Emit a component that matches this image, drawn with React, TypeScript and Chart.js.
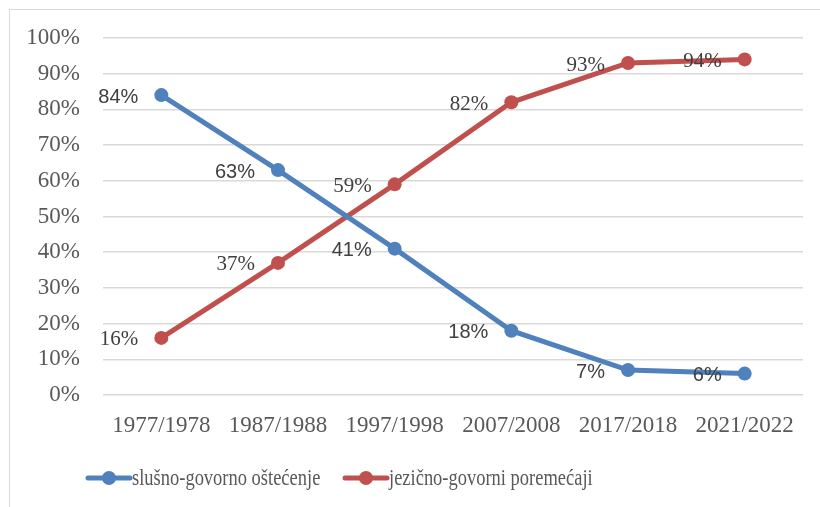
import React, { useEffect, useRef } from "react";
import { Chart, registerables } from "chart.js";

Chart.register(...registerables);

const categories = ["1977/1978", "1987/1988", "1997/1998", "2007/2008", "2017/2018", "2021/2022"];
const seriesNames = ["slušno-govorno oštećenje", "jezično-govorni poremećaji"];
const hearingSpeech = [84, 63, 41, 18, 7, 6];
const languageSpeech = [16, 37, 59, 82, 93, 94];
const yTicks = [0, 10, 20, 30, 40, 50, 60, 70, 80, 90, 100];

const BLUE = "#4F81BD";
const RED = "#C0504D";
const SERIF = "'Liberation Serif', 'Times New Roman', serif";
const SANS = "'Liberation Sans', Arial, sans-serif";

const framePlugin = {
  id: "frame",
  beforeDraw(chart: any) {
    const ctx = chart.ctx;
    ctx.save();
    ctx.fillStyle = "#ffffff";
    ctx.fillRect(0, 0, chart.width, chart.height);
    ctx.strokeStyle = "#d9d9d9";
    ctx.lineWidth = 1;
    ctx.strokeRect(9.5, 9.5, chart.width + 50, chart.height + 50);
    ctx.restore();
  },
};

const labelFonts = [`20px ${SANS}`, `21px ${SERIF}`];

const dataLabelPlugin = {
  id: "dataLabels",
  afterDatasetsDraw(chart: any) {
    const ctx = chart.ctx;
    ctx.save();
    chart.data.datasets.forEach((ds: any, i: number) => {
      const meta = chart.getDatasetMeta(i);
      ctx.font = labelFonts[i];
      ctx.fillStyle = "#404040";
      ctx.textAlign = "right";
      ctx.textBaseline = "middle";
      meta.data.forEach((pt: any, j: number) => {
        ctx.fillText(ds.data[j] + "%", pt.x - 23, pt.y + 2);
      });
    });
    ctx.restore();
  },
};

const legendPlugin = {
  id: "customLegend",
  afterDraw(chart: any) {
    const ctx = chart.ctx;
    ctx.save();
    const y = 478;
    const starts = [88, 345];
    ctx.textBaseline = "middle";
    ctx.textAlign = "left";
    chart.data.datasets.forEach((ds: any, i: number) => {
      const x = starts[i];
      ctx.strokeStyle = ds.borderColor;
      ctx.lineWidth = 5;
      ctx.lineCap = "round";
      ctx.beginPath();
      ctx.moveTo(x, y);
      ctx.lineTo(x + 42, y);
      ctx.stroke();
      ctx.fillStyle = ds.borderColor;
      ctx.beginPath();
      ctx.arc(x + 21, y, 7, 0, Math.PI * 2);
      ctx.fill();
      ctx.save();
      ctx.font = `24px ${SERIF}`;
      ctx.fillStyle = "#595959";
      ctx.translate(x + 44, y + 1);
      ctx.scale(0.77, 1);
      ctx.fillText(ds.label, 0, 0);
      ctx.restore();
    });
    ctx.restore();
  },
};

export default function App() {
  const ref = useRef<HTMLCanvasElement | null>(null);
  useEffect(() => {
    if (!ref.current) return;
    const chart = new Chart(ref.current, {
      type: "line",
      data: {
        labels: categories,
        datasets: [
          {
            label: seriesNames[0],
            data: hearingSpeech,
            borderColor: BLUE,
            backgroundColor: BLUE,
            borderWidth: 5,
            pointRadius: 7,
            pointBackgroundColor: BLUE,
            pointBorderWidth: 0,
            tension: 0,
          },
          {
            label: seriesNames[1],
            data: languageSpeech,
            borderColor: RED,
            backgroundColor: RED,
            borderWidth: 5,
            pointRadius: 7,
            pointBackgroundColor: RED,
            pointBorderWidth: 0,
            tension: 0,
          },
        ],
      },
      options: {
        animation: false,
        responsive: false,
        maintainAspectRatio: false,
        layout: { padding: { top: 38, right: 17, bottom: 0, left: 0 } },
        plugins: {
          legend: { display: false },
          tooltip: { enabled: false },
        },
        scales: {
          x: {
            offset: true,
            grid: { display: false, drawTicks: false },
            border: { display: false },
            ticks: {
              font: { family: SERIF, size: 23 },
              color: "#595959",
              padding: 17,
              maxRotation: 0,
              autoSkip: false,
            },
            afterFit: (s: any) => {
              s.height = 112;
            },
          },
          y: {
            min: 0,
            max: 100,
            afterBuildTicks: (s: any) => {
              s.ticks = yTicks.map((v) => ({ value: v }));
            },
            grid: { color: "#d9d9d9", lineWidth: 1.5, drawTicks: false },
            border: { display: false },
            ticks: {
              font: { family: SERIF, size: 23 },
              color: "#595959",
              padding: 23,
              callback: (v: any) => v + "%",
            },
            afterFit: (s: any) => {
              s.width = 103;
            },
          },
        },
      },
      plugins: [framePlugin, dataLabelPlugin, legendPlugin],
    });
    return () => chart.destroy();
  }, []);
  return (
    <div style={{ position: "fixed", left: 0, top: 0, width: 820, height: 507 }}>
      <canvas ref={ref} width={820} height={507} style={{ width: 820, height: 507, display: "block" }} />
    </div>
  );
}
